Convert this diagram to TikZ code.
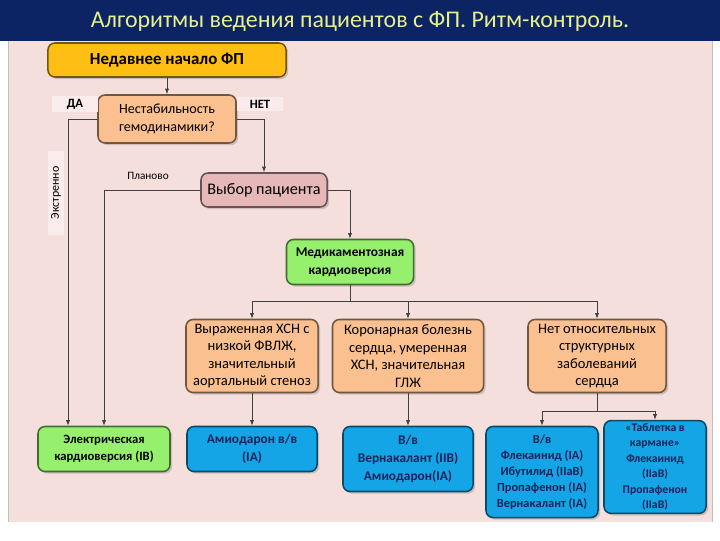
\documentclass[tikz,border=0pt]{standalone}
\usepackage{fontspec}
\setmainfont{Carlito}
\usetikzlibrary{arrows.meta,shadows}
\begin{document}
\begin{tikzpicture}[x=0.025cm, y=-0.025cm,
    box/.style={rounded corners=5pt, draw=#1!45!black, fill=#1, line width=1.1pt, align=center,
        inner sep=2pt, drop shadow={opacity=0.35, shadow xshift=1.5pt, shadow yshift=-1.5pt}},
    conn/.style={black!75, line width=0.6pt},
    arr/.style={conn, -{Latex[length=4pt, width=3pt]}},
    lbl/.style={fill=panellight, inner sep=2pt, font=\fontsize{9}{10}\selectfont\bfseries}]
        \definecolor{titlebar}{RGB}{12,36,100}
\definecolor{titletext}{RGB}{230,240,140}
\definecolor{panel}{RGB}{245,223,221}
\definecolor{panellight}{RGB}{249,236,234}
\definecolor{cellyellow}{RGB}{255,190,20}
\definecolor{cellorange}{RGB}{250,192,143}
\definecolor{cellpink}{RGB}{230,184,184}
\definecolor{cellgreen}{RGB}{150,240,110}
\definecolor{cellblue}{RGB}{20,165,230}
\definecolor{bluetext}{RGB}{20,35,90}
\useasboundingbox (0,0) rectangle (720,540);
\fill[white] (0,0) rectangle (720,540);
\fill[panel] (8,40) rectangle (712,522);
\draw[black!25, line width=0.4pt] (8,40) -- (8,522);
\draw[black!25, line width=0.4pt] (712,40) -- (712,522);
\fill[titlebar] (0,0) rectangle (720,41);
\node[text=titletext, font=\fontsize{17}{20}\selectfont] (title) at (360,21) {Алгоритмы ведения пациентов с ФП. Ритм-контроль.};
\node[box=cellyellow, minimum width=5.95cm, minimum height=0.85cm, font=\fontsize{12}{14}\selectfont\bfseries] (start) at (167,60) {Недавнее начало ФП};
\node[box=cellorange, minimum width=3.45cm, minimum height=1.2cm, font=\fontsize{10}{12.5}\selectfont] (unstable) at (167,119) {Нестабильность\\гемодинамики?};
\node[box=cellpink, minimum width=3.15cm, minimum height=0.85cm, font=\fontsize{11.5}{13}\selectfont] (choice) at (264,190) {Выбор пациента};
\node[box=cellgreen, minimum width=3.175cm, minimum height=1.125cm, font=\fontsize{9.5}{12.5}\selectfont\bfseries] (drug) at (350,262) {Медикаментозная\\кардиоверсия};
\node[box=cellorange, minimum width=3.3cm, minimum height=1.825cm, font=\fontsize{10.3}{12.5}\selectfont] (hf) at (252,356) {Выраженная ХСН с\\низкой ФВЛЖ,\\значительный\\аортальный стеноз};
\node[box=cellorange, minimum width=3.775cm, minimum height=1.825cm, font=\fontsize{10.3}{12.5}\selectfont] (chd) at (408,356) {Коронарная болезнь\\сердца, умеренная\\ХСН, значительная\\ГЛЖ};
\node[box=cellorange, minimum width=3.45cm, minimum height=1.825cm, font=\fontsize{10.3}{12.5}\selectfont] (nostr) at (597,356) {Нет относительных\\структурных\\заболеваний\\сердца};
\node[box=cellgreen, minimum width=3.3cm, minimum height=1.125cm, font=\fontsize{9}{12.5}\selectfont\bfseries] (ecv) at (104,449) {Электрическая\\кардиоверсия (IB)};
\node[box=cellblue, text=bluetext, minimum width=3.25cm, minimum height=1.125cm, font=\fontsize{9.5}{12.5}\selectfont\bfseries] (amio) at (252,449) {Амиодарон в/в\\(IA)};
\node[box=cellblue, text=bluetext, minimum width=3.25cm, minimum height=1.625cm, font=\fontsize{9.5}{13}\selectfont\bfseries] (vern) at (408,459) {В/в\\Вернакалант (IIB)\\Амиодарон(IA)};
\node[box=cellblue, text=bluetext, minimum width=2.8cm, minimum height=2.275cm, font=\fontsize{8.8}{11.3}\selectfont\bfseries] (flec) at (542,472) {В/в\\Флекаинид (IA)\\Ибутилид (IIaB)\\Пропафенон (IA)\\Вернакалант (IA)};
\node[box=cellblue, text=bluetext, minimum width=2.55cm, minimum height=2.225cm, font=\fontsize{8.3}{11}\selectfont\bfseries] (pill) at (655,467) {«Таблетка в\\кармане»\\Флекаинид\\(IIaB)\\Пропафенон\\(IIaB)};
\draw[arr] (start) -- (unstable);
\draw[arr] (unstable.east) -| (choice.north);
\draw[arr] (unstable.west) -| ([xshift=-0.9cm]ecv.north);
\draw[arr] (choice.west) -| (ecv.north);
\draw[arr] (choice.east) -| (drug.north);
\draw[conn] (drug.south) -- ++(0,16) coordinate (split);
\draw[arr] (split) -| (hf.north);
\draw[arr] (split) -| (chd.north);
\draw[arr] (split) -| (nostr.north);
\draw[arr] (hf) -- (amio);
\draw[arr] (chd) -- (vern);
\draw[conn] (nostr.south) -- ++(0,18) coordinate (split2);
\draw[arr] (split2) -| (flec.north);
\draw[arr] (split2) -| (pill.north);
\node[lbl, minimum width=1.15cm] (yes) at (75,104) {ДА};
\node[lbl, minimum width=1.15cm] (no) at (260,104) {НЕТ};
\node[lbl, rotate=90, font=\fontsize{8.5}{9}\selectfont, minimum width=2.1cm] (urgent) at (56,193) {Экстренно};
\node[font=\fontsize{8}{9}\selectfont] (planned) at (148,176) {Планово};
        \end{tikzpicture}
\end{document}
